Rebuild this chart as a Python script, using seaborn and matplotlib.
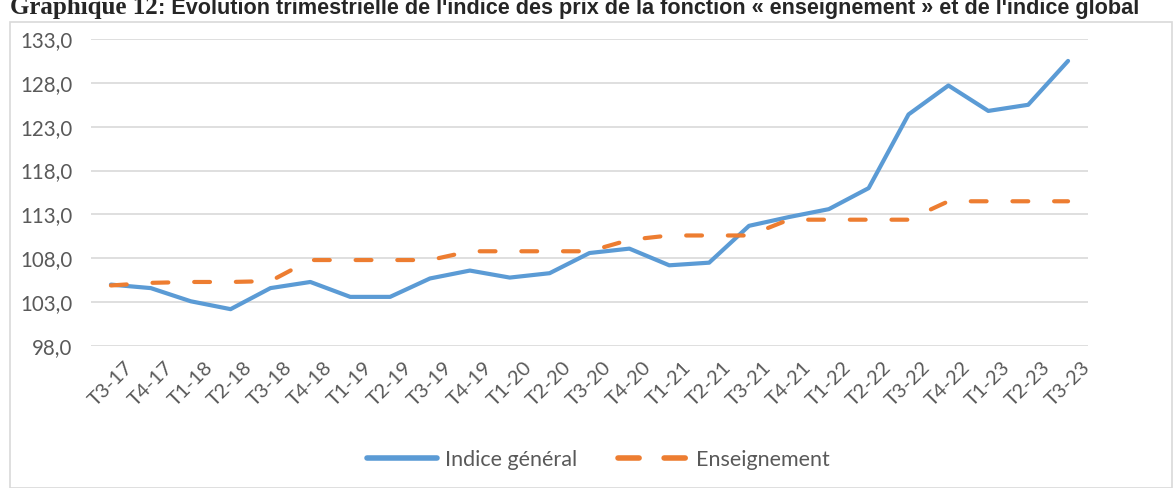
import pandas as pd
import matplotlib.pyplot as plt
import seaborn as sns
from matplotlib.patches import Rectangle

# quarters
periodes = ["T3-17", "T4-17", "T1-18", "T2-18", "T3-18", "T4-18", "T1-19", "T2-19",
            "T3-19", "T4-19", "T1-20", "T2-20", "T3-20", "T4-20", "T1-21", "T2-21",
            "T3-21", "T4-21", "T1-22", "T2-22", "T3-22", "T4-22", "T1-23", "T2-23", "T3-23"]
indice_general = [105.0, 104.6, 103.1, 102.2, 104.6, 105.3, 103.6, 103.6, 105.7, 106.6,
                  105.8, 106.3, 108.6, 109.1, 107.2, 107.5, 111.7, 112.7, 113.6, 116.0,
                  124.4, 127.7, 124.8, 125.5, 130.5]
enseignement = [104.9, 105.2, 105.3, 105.3, 105.4, 107.8, 107.8, 107.8, 107.8, 108.8,
                108.8, 108.8, 108.8, 110.1, 110.6, 110.6, 110.6, 112.4, 112.4, 112.4,
                112.4, 114.5, 114.5, 114.5, 114.5]
series = ["Indice général", "Enseignement"]
yticks = [98, 103, 108, 113, 118, 123, 128, 133]

df = pd.DataFrame({
    "x": list(range(len(periodes))) * 2,
    "valeur": indice_general + enseignement,
    "serie": [series[0]] * len(periodes) + [series[1]] * len(periodes),
})

sns.set_style("white")
plt.rcParams["font.family"] = ["Lato", "DejaVu Sans"]

fig = plt.figure(figsize=(11.74, 4.88), dpi=100)
ax = fig.add_axes([91 / 1174, 1 - 346 / 488, 997 / 1174, 307 / 488])

sns.lineplot(data=df, x="x", y="valeur", hue="serie", style="serie",
             palette={series[0]: "#5B9BD5", series[1]: "#ED7D31"},
             dashes={series[0]: "", series[1]: (3.8, 6.2)},
             linewidth=3, ax=ax, legend=False, sort=False)
for line in ax.get_lines():
    line.set_dash_capstyle("round")
    line.set_solid_capstyle("round")
    line.set_solid_joinstyle("round")

ax.set_xlim(-0.5, len(periodes) - 0.5)
ax.set_ylim(98, 133)
ax.tick_params(length=0, axis="y", pad=13.5)
ax.tick_params(length=0, axis="x", pad=9)
ax.set_yticks(yticks)
ax.set_yticklabels([f"{v:.1f}".replace(".", ",") for v in yticks], color="#595959", fontsize=14.8)
ax.set_xticks(range(len(periodes)))
ax.set_xticklabels(periodes, rotation=45, ha="center", va="top",
                   color="#595959", fontsize=14.5)
ax.set_xlabel("")
ax.set_ylabel("")
ax.yaxis.grid(True, color="#d9d9d9", linewidth=1.2)
for s in ax.spines.values():
    s.set_visible(False)

# legend
handles = [plt.Line2D([], [], color="#5B9BD5", lw=4, solid_capstyle="round"),
           plt.Line2D([], [], color="#ED7D31", lw=4, dashes=(3.8, 4.5), dash_capstyle="round")]
fig.legend(handles, series, loc="center", bbox_to_anchor=(0.51, 1 - 460 / 488), ncol=2,
           frameon=False, fontsize=15.5, handlelength=3.25, handletextpad=0.37,
           columnspacing=1.9, labelcolor="#595959")

# chart border
fig.add_artist(Rectangle((10 / 1174, 0), 1162 / 1174, 1 - 22 / 488, transform=fig.transFigure,
                         fill=False, edgecolor="#d9d9d9", linewidth=1.2))

# title (cut at the top, as in the source)
fig.text(10 / 1174, 1 - 14 / 488, "Graphique 12", family="Liberation Serif", weight="bold",
         fontsize=18, va="baseline")
fig.text(158 / 1174, 1 - 14 / 488,
         ": Évolution trimestrielle de l'indice des prix de la fonction « enseignement » et de l'indice global",
         family="Liberation Sans", weight="bold", fontsize=15.6, va="baseline")

fig.savefig("out.png", dpi=100)
